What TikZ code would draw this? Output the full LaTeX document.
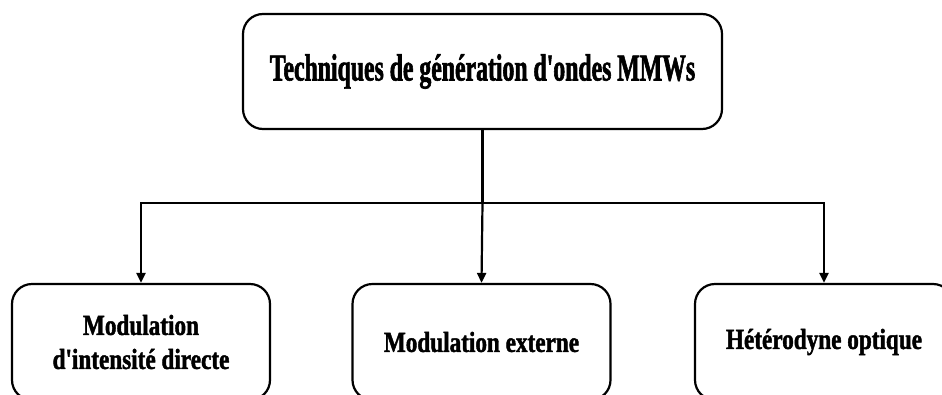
\documentclass[tikz,border=0pt]{standalone}
\usepackage{fontspec}
\usepackage{xcolor}
\usetikzlibrary{arrows.meta}
\newfontfamily\rootfont[FakeStretch=0.625, Ligatures=ResetAll,
  BoldFeatures={FakeBold=1.5}]{Liberation Serif}
\newfontfamily\leaffont[FakeStretch=0.80, Ligatures=ResetAll,
  BoldFeatures={FakeBold=1.5}]{Liberation Serif}
\definecolor{cLine}{HTML}{000000}
\tikzset{
  fig/box/.style   ={draw=cLine, line width=2.2pt, rounded corners=20pt,
                     fill=white, align=center, inner sep=0pt},
  fig/rootbox/.style={fig/box, minimum width=479pt, minimum height=115pt,
                     font=\rootfont\fontsize{38}{42}\selectfont\bfseries},
  fig/leafbox/.style={fig/box, minimum width=258pt, minimum height=116pt,
                     font=\leaffont\fontsize{29}{34}\selectfont\bfseries},
  fig/line/.style  ={line width=2.2pt, cLine},
  fig/arr/.style   ={fig/line, -{Triangle[length=10pt, width=9pt]}}
}
\begin{document}
\begin{tikzpicture}[x=1pt, y=-1pt]
    \useasboundingbox (0,0) rectangle (942,394);
    \clip (0,0) rectangle (942,394);
    % root of the tree
    \node[fig/rootbox] (root) at (482.5, 71.5) {Techniques de génération d'ondes MMWs};
    % the three techniques
    \node[fig/leafbox] (direct) at (141,   342) {Modulation\\d'intensité directe};
    \node[fig/leafbox] (extern) at (481.5, 342) {Modulation externe};
    \node[fig/leafbox] (hetero) at (824,   342) {Hétérodyne optique};
    % branching
    \coordinate (split) at (482.5, 203);
    \draw[fig/line] (root.south) -- (split);
    \draw[fig/arr] (split) -| (direct.north);
    \draw[fig/arr] (split) -- (extern.north);
    \draw[fig/arr] (split) -| (hetero.north);
\end{tikzpicture}
\end{document}
